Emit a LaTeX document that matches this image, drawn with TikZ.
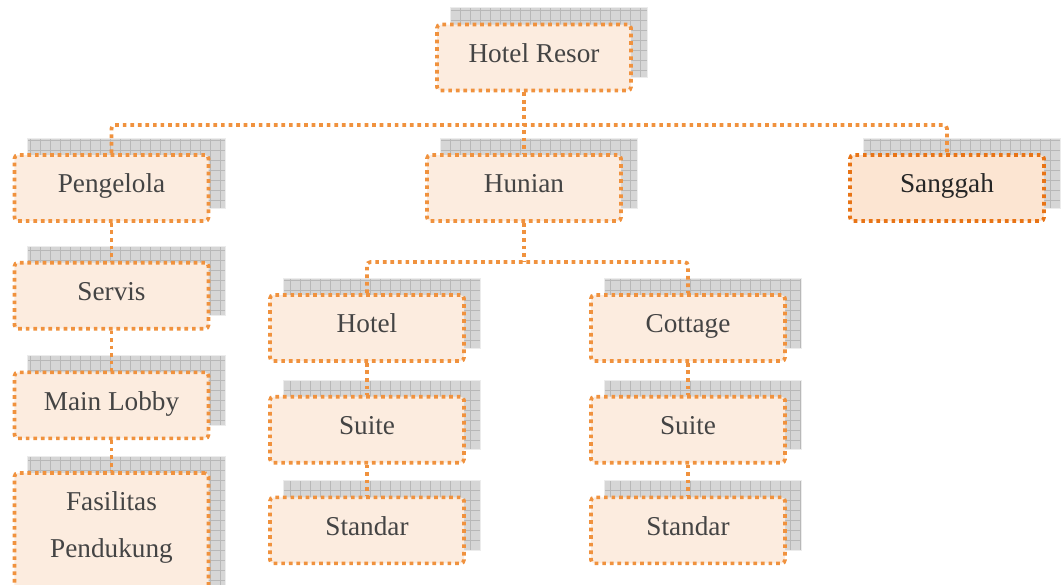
\documentclass[tikz,border=0pt]{standalone}
\usepackage{fontspec}
\setmainfont{Liberation Serif}
\usetikzlibrary{positioning}
\definecolor{unitline}{RGB}{240,146,62}
\definecolor{unitfill}{RGB}{252,236,223}
\definecolor{hotline}{RGB}{232,116,22}
\definecolor{hotfill}{RGB}{252,229,210}
\definecolor{shadefill}{RGB}{214,214,214}
\definecolor{shadegrid}{RGB}{184,184,184}
\definecolor{unittext}{RGB}{68,68,68}
\pgfdeclarelayer{shade}
\pgfdeclarelayer{wires}
\pgfsetlayers{shade,wires,main}

\begin{document}
\begin{tikzpicture}[
        unit/.style={rectangle, rounded corners=2pt, draw=unitline, fill=unitfill,
                     line width=2.1pt, dash pattern=on 2.1pt off 2.2pt,
                     minimum width=38.8mm, minimum height=13.2mm,
                     text height=10.5pt, text depth=5pt,
                     align=center, text=unittext,
                     font=\fontsize{15.5}{26.7}\selectfont},
        hotunit/.style={unit, draw=hotline, fill=hotfill, text=black!85},
        link/.style={draw=unitline, line width=2.1pt, dash pattern=on 2.1pt off 2.2pt},
    ]
    \useasboundingbox (0,0) rectangle (21.26,-11.68);

    % top level
    \node[unit] (resor) at (10.68,-1.15) {Hotel Resor};
    \node[unit] (pengelola) at (2.23,-3.76) {Pengelola};
    \node[unit] (hunian) at (10.48,-3.76) {Hunian};
    \node[hotunit] (sanggah) at (18.94,-3.76) {Sanggah};

    % pengelola branch
    \node[unit, below=7.6mm of pengelola] (servis) {Servis};
    \node[unit, below=8mm of servis] (lobby) {Main Lobby};
    \node[unit, below=6.2mm of lobby, minimum height=30mm, text height={}, text depth={}]
        (fasilitas) {Fasilitas\\Pendukung\\\mbox{}};

    % hunian branch
    \node[unit] (hotel) at (7.34,-6.56) {Hotel};
    \node[unit] (cottage) at (13.76,-6.56) {Cottage};
    \node[unit, below=6.4mm of hotel] (suiteH) {Suite};
    \node[unit, below=6.2mm of suiteH] (standarH) {Standar};
    \node[unit, below=6.4mm of cottage] (suiteC) {Suite};
    \node[unit, below=6.2mm of suiteC] (standarC) {Standar};

    % gridded shadows behind the boxes
    \begin{pgfonlayer}{shade}
        \foreach \n in {resor, pengelola, hunian, sanggah, servis, lobby, fasilitas,
                        hotel, cottage, suiteH, standarH, suiteC, standarC} {
            \fill[shadefill] ([shift={(0.3,0.3)}]\n.south west) rectangle ([shift={(0.3,0.3)}]\n.north east);
            \draw[shadegrid, very thin, step=0.2cm] ([shift={(0.3,0.3)}]\n.south west) grid ([shift={(0.3,0.3)}]\n.north east);
            \draw[white!85!gray, thin] ([shift={(0.3,0.3)}]\n.south west) rectangle ([shift={(0.3,0.3)}]\n.north east);
        }
    \end{pgfonlayer}

    % dotted connectors
    \begin{pgfonlayer}{wires}
        \coordinate (bus) at (0,-2.5);
        \coordinate (fork) at (0,-5.24);
        \draw[link] (resor.south -| hunian.north) -- (hunian.north);
        \draw[link, rounded corners=2pt] (pengelola.north) |- (bus -| sanggah.north) -- (sanggah.north);
        \draw[link] (pengelola) -- (servis) -- (lobby) -- (fasilitas.north);
        \draw[link] (hunian.south) -- (hunian.south |- fork);
        \draw[link, rounded corners=2pt] (hotel.north) |- (fork -| cottage.north) -- (cottage.north);
        \draw[link] (hotel) -- (suiteH) -- (standarH);
        \draw[link] (cottage) -- (suiteC) -- (standarC);
    \end{pgfonlayer}
\end{tikzpicture}
\end{document}
